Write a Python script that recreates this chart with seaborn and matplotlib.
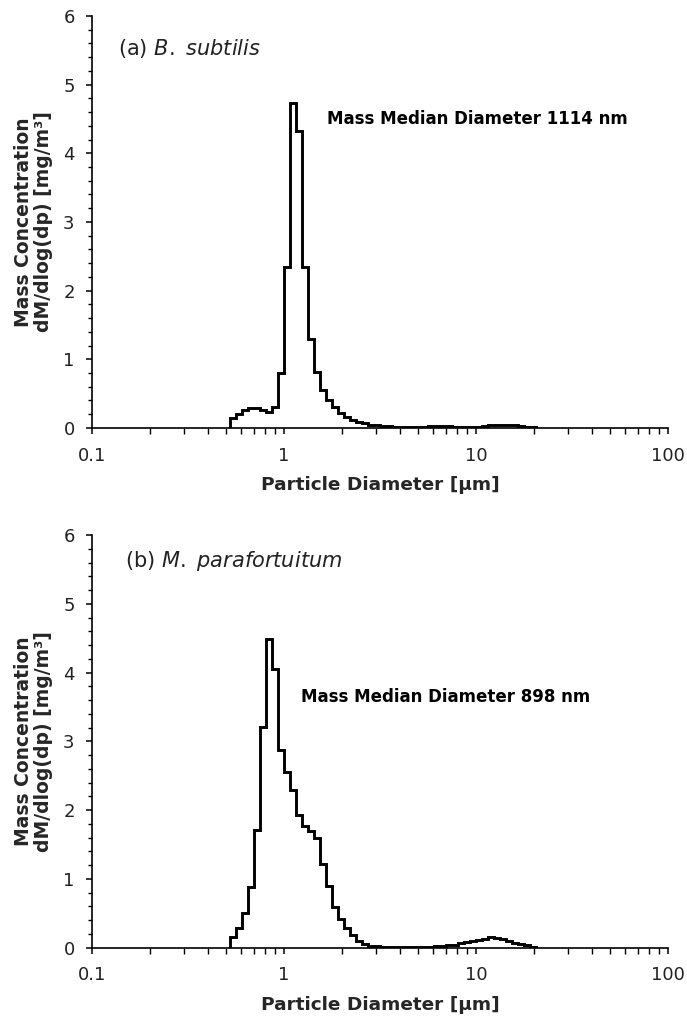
import numpy as np
import pandas as pd
import matplotlib
matplotlib.use("Agg")
import matplotlib.pyplot as plt
import seaborn as sns
from matplotlib.ticker import FixedLocator, MultipleLocator, NullFormatter

# APS channel midpoints (um), 32 channels per decade
diameter_um = [0.542, 0.583, 0.626, 0.673, 0.723, 0.777, 0.835, 0.898, 0.965,
               1.037, 1.114, 1.197, 1.286, 1.382, 1.486, 1.596, 1.715, 1.843, 1.981,
               2.129, 2.288, 2.458, 2.642, 2.839, 3.051, 3.278, 3.523, 3.786, 4.068,
               4.371, 4.698, 5.048, 5.425, 5.829, 6.264, 6.732, 7.234, 7.774, 8.354,
               8.977, 9.647, 10.37, 11.14, 11.97, 12.86, 13.82, 14.86, 15.96, 17.15,
               18.43, 19.81]

# (a) B. subtilis, dM/dlog(dp) [mg/m3]
bsub_conc = [0.14, 0.21, 0.26, 0.29, 0.29, 0.26, 0.23, 0.31, 0.80,
             2.35, 4.73, 4.32, 2.34, 1.29, 0.81, 0.55, 0.41, 0.30, 0.22, 0.16,
             0.12, 0.09, 0.07, 0.05, 0.04, 0.03, 0.025, 0.02, 0.02, 0.02,
             0.02, 0.02, 0.02, 0.025, 0.03, 0.03, 0.025, 0.02, 0.02, 0.02,
             0.02, 0.02, 0.03, 0.04, 0.05, 0.04, 0.05, 0.04, 0.03, 0.02, 0.01]

# (b) M. parafortuitum
mpara_conc = [0.155, 0.28, 0.50, 0.88, 1.71, 3.21, 4.49, 4.05, 2.87,
              2.56, 2.29, 1.93, 1.77, 1.70, 1.59, 1.21, 0.90, 0.59, 0.41, 0.29,
              0.18, 0.10, 0.05, 0.025, 0.02, 0.015, 0.01, 0.01, 0.01, 0.01,
              0.01, 0.012, 0.015, 0.015, 0.018, 0.02, 0.03, 0.04, 0.06, 0.08,
              0.09, 0.11, 0.13, 0.15, 0.14, 0.12, 0.09, 0.07, 0.05, 0.03, 0.01]

panel_titles = [r"(a) $\mathit{B.\ subtilis}$", r"(b) $\mathit{M.\ parafortuitum}$"]
mmd_labels = ["Mass Median Diameter 1114 nm", "Mass Median Diameter 898 nm"]
x_ticks = [0.1, 1, 10, 100]
x_ticklabels = ["0.1", "1", "10", "100"]
y_ticks = [0, 1, 2, 3, 4, 5, 6]

sns.set_style("ticks")
plt.rcParams['font.family'] = ['DejaVu Sans']
plt.rcParams['mathtext.fontset'] = 'dejavusans'

# bin edges halfway (geometrically) between channel midpoints
d = np.array(diameter_um)
mids = np.sqrt(d[:-1] * d[1:])
edges = np.concatenate([[d[0] ** 2 / mids[0]], mids, [d[-1] ** 2 / mids[-1]]]).tolist()

fig = plt.figure(figsize=(6.87, 10.17), dpi=100)
ax_a = fig.add_axes([0.1339, 0.5792, 0.8384, 0.4051])
ax_b = fig.add_axes([0.1339, 0.0683, 0.8384, 0.4056])

panels = [(ax_a, bsub_conc, panel_titles[0], mmd_labels[0], (0.408, 0.75), (0.045, 0.92)),
          (ax_b, mpara_conc, panel_titles[1], mmd_labels[1], (0.363, 0.607), (0.057, 0.937))]

for ax, conc, title, mmd, mmd_pos, title_pos in panels:
    df = pd.DataFrame({"diameter": diameter_um, "conc": conc})
    sns.histplot(data=df, x="diameter", weights="conc", bins=edges, element="step",
                 fill=False, color="black", linewidth=2.1, ax=ax)
    # close the outline down to zero at both ends, like the original plot
    step = ax.lines[-1]
    sx, sy = step.get_data()
    sx, sy = np.asarray(sx), np.asarray(sy)
    step.set_data(np.r_[sx[0], sx, sx[-1]], np.r_[0, sy, 0])
    step.set_solid_joinstyle("miter")

    ax.set_xscale("log")
    ax.set_xlim(0.1, 100)
    ax.set_ylim(0, 6)

    ax.xaxis.set_major_locator(FixedLocator(x_ticks))
    ax.set_xticklabels(x_ticklabels)
    ax.xaxis.set_minor_locator(FixedLocator([m * 10.0 ** e for e in (-1, 0, 1) for m in range(2, 10)]))
    ax.xaxis.set_minor_formatter(NullFormatter())
    ax.yaxis.set_major_locator(FixedLocator(y_ticks))
    ax.yaxis.set_minor_locator(MultipleLocator(0.2))

    ax.tick_params(axis="both", which="major", direction="out", length=4.5, width=1.1,
                   labelsize=13, colors="black", labelcolor="#222222")
    ax.tick_params(axis="x", which="major", pad=9)
    ax.tick_params(axis="y", which="major", pad=8)
    ax.tick_params(axis="both", which="minor", direction="out", length=3.2, width=1.0, colors="black")
    ax.tick_params(axis="x", which="minor", length=4.0)

    for s in ["top", "right"]:
        ax.spines[s].set_visible(False)
    for s in ["left", "bottom"]:
        ax.spines[s].set_linewidth(1.2)
        ax.spines[s].set_color("black")

    ax.set_xlabel("Particle Diameter [µm]", fontsize=13.3, fontweight="bold", va="top")
    ax.xaxis.set_label_coords(0.5, -0.117)
    ax.set_ylabel("Mass Concentration\ndM/dlog(dp) [mg/m³]", fontsize=13.5,
                  fontweight="bold", linespacing=1.05)
    ax.yaxis.set_label_coords(-0.068, 0.5)

    ax.text(title_pos[0], title_pos[1], title, transform=ax.transAxes, fontsize=15,
            va="center", ha="left", color="#222222")
    ax.text(mmd_pos[0], mmd_pos[1], mmd, transform=ax.transAxes, fontsize=12,
            fontweight="bold", va="center", ha="left", color="black")

fig.savefig("out.png", dpi=100, facecolor="white")
